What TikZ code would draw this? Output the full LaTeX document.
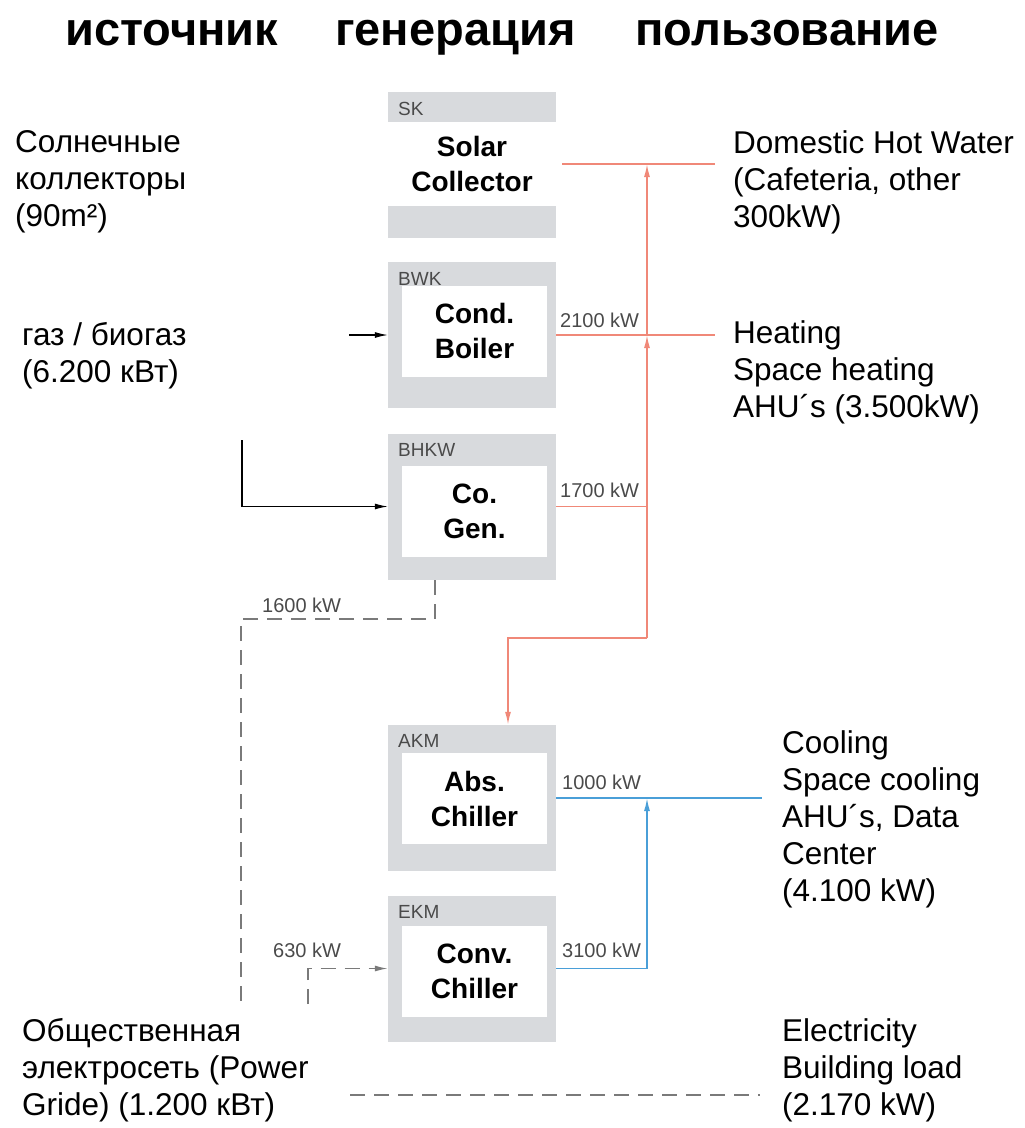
\documentclass[tikz,border=0pt]{standalone}
\usepackage{fontspec}
\setmainfont{Liberation Sans}
\usetikzlibrary{arrows.meta}
\definecolor{boxgray}{HTML}{D8DADD}
\definecolor{heatred}{HTML}{F08878}
\definecolor{coolblue}{HTML}{4A9FD8}
\definecolor{gridgray}{HTML}{7A7A7A}
\definecolor{tagtext}{HTML}{4A4A4A}
\begin{document}
\begin{tikzpicture}[x=1pt, y=-1pt,
  unit/.style={fill=boxgray, minimum width=168pt, minimum height=146pt, inner sep=0pt},
  core/.style={fill=white, minimum width=145pt, minimum height=91pt, inner sep=0pt, align=center, font=\bfseries\fontsize{28}{35}\selectfont},
  tag/.style={anchor=base west, inner sep=0pt, text=tagtext, font=\fontsize{19}{22}\selectfont},
  kw/.style={anchor=base west, inner sep=0pt, text=tagtext, font=\fontsize{20}{24}\selectfont},
  note/.style={anchor=base west, inner sep=0pt, align=left, font=\fontsize{31.5}{37}\selectfont},
  head/.style={anchor=base west, inner sep=0pt, font=\bfseries\fontsize{47}{56}\selectfont},
  heat/.style={draw=heatred, line width=1.5pt},
  cool/.style={draw=coolblue, line width=1.6pt},
  grid/.style={draw=gridgray, line width=1.4pt, dash pattern=on 15pt off 9pt},
  feed/.style={draw=black, line width=1.1pt},
  tip/.style={-{Latex[length=13pt,width=6pt]}}]
\useasboundingbox (0,0) rectangle (1025,1128);
% column headings
\node[head] (hsrc) at (65,45) {источник};
\node[head] (hgen) at (335,45) {генерация};
\node[head] (huse) at (635,45) {пользование};
% plant units
\node[unit] (sk) at (472,165) {};
\node[core, minimum width=168pt, minimum height=84pt] (skc) at (472,164) {Solar\\Collector};
\node[tag] at (398,115) {SK};
\node[unit] (bwk) at (472,335) {};
\node[core] (bwkc) at (474.5,331) {Cond.\\Boiler};
\node[tag] at (398,285) {BWK};
\node[unit] (bhkw) at (472,506.5) {};
\node[core] (bhkwc) at (474.5,511.5) {Co.\\Gen.};
\node[tag] at (398,456) {BHKW};
\node[unit] (akm) at (472,798) {};
\node[core] (akmc) at (474.5,798.5) {Abs.\\Chiller};
\node[tag] at (398,747) {AKM};
\node[unit] (ekm) at (472,968.5) {};
\node[core] (ekmc) at (474.5,971.5) {Conv.\\Chiller};
\node[tag] at (398,918) {EKM};
% sources and consumers (anchored on the last line)
\node[note] (solar) at (15,226) {Солнечные\\коллекторы\\(90m²)};
\node[note] (gas) at (22,382) {газ / биогаз\\(6.200 кВт)};
\node[note] (grid) at (22,1115) {Общественная\\электросеть (Power\\Gride) (1.200 кВт)};
\node[note] (dhw) at (733,227) {Domestic Hot Water\\(Cafeteria, other\\300kW)};
\node[note] (heating) at (733,417) {Heating\\Space heating\\AHU´s (3.500kW)};
\node[note] (cooling) at (782,901) {Cooling\\Space cooling\\AHU´s, Data\\Center\\(4.100 kW)};
\node[note] (power) at (782,1115) {Electricity\\Building load\\(2.170 kW)};
% flow values
\node[kw] at (560,327) {2100 kW};
\node[kw] at (560,497) {1700 kW};
\node[kw] at (262,612) {1600 kW};
\node[kw] at (562,789) {1000 kW};
\node[kw] at (562,957) {3100 kW};
\node[kw] at (273,957) {630 kW};
% junction points
\coordinate (dhwl) at (562,164);
\coordinate (dhwr) at (715,164);
\coordinate (heatr) at (715,335);
\coordinate (riser) at (647,638);
\coordinate (hjoin) at (647,335);
\coordinate (djoin) at (647,164);
\coordinate (cjoin) at (647,506.5);
\coordinate (drop) at (508,638);
\coordinate (coolr) at (762,798);
\coordinate (bjoin) at (647,798);
\coordinate (gasin) at (349,335);
\coordinate (fuelin) at (242,440);
\coordinate (elout) at (435,580);
\coordinate (elbend) at (241,619);
\coordinate (elend) at (241,1003);
\coordinate (gridin) at (308,1004);
\coordinate (busl) at (350,1095);
\coordinate (busr) at (760,1095);
% heat
\draw[heat] (dhwl) -- (dhwr);
\draw[heat] (bwk.east) -- (heatr);
\draw[heat] (bhkw.east) -- (cjoin);
\draw[heat, tip] (riser) -- (hjoin);
\draw[heat, tip] (hjoin) -- (djoin);
\draw[heat, tip] (riser) -- (drop) -- (drop |- akm.north);
% cold
\draw[cool] (akm.east) -- (coolr);
\draw[cool, tip] (ekm.east) -| (bjoin);
% fuel
\draw[feed, tip] (gasin) -- (bwk.west);
\draw[feed, tip] (fuelin) |- (bhkw.west);
% electricity
\draw[grid] (elout) |- (elbend) -- (elend);
\draw[grid, tip] (gridin) |- (ekm.west);
\draw[grid] (busl) -- (busr);
\end{tikzpicture}
\end{document}
